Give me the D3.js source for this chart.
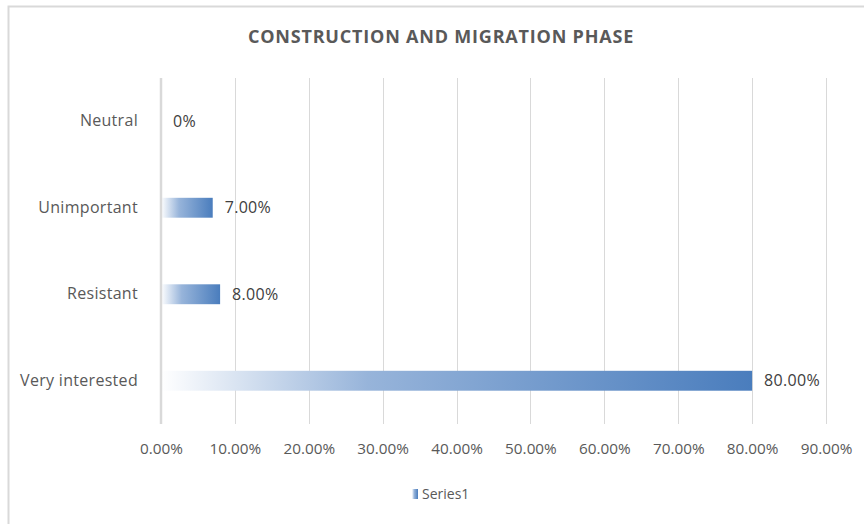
<!DOCTYPE html>
<html><head><meta charset="utf-8">
<script src="https://cdn.jsdelivr.net/npm/d3@7"></script>
<style>body{margin:0;background:#fff}svg{display:block}text{font-family:"Open Sans","Liberation Sans",sans-serif}</style>
</head><body><svg id="c" width="864" height="524"></svg>
<script>
const categories = ["Neutral","Unimportant","Resistant","Very interested"];
const values = [0, 0.07, 0.08, 0.80];
const valueLabels = ["0%","7.00%","8.00%","80.00%"];
const tickValues = [0,0.1,0.2,0.3,0.4,0.5,0.6,0.7,0.8,0.9];
const seriesName = "Series1";
const title = "CONSTRUCTION AND MIGRATION PHASE";

const svg = d3.select("#c");
const W=864,H=524;
svg.append("rect").attr("x",0).attr("y",0).attr("width",W).attr("height",H).attr("fill","#fff");
// chart frame
svg.append("path").attr("d","M8.5,524 V6.5 H864").attr("fill","none").attr("stroke","#d9d9d9").attr("stroke-width",2);

const x = d3.scaleLinear().domain([0,0.9]).range([161,826]);
const y = d3.scaleBand().domain(categories).range([78,424]).paddingInner(0.77).paddingOuter(0.385);

const defs = svg.append("defs");
const g = defs.append("linearGradient").attr("id","bg").attr("x1","0").attr("x2","1").attr("y1","0").attr("y2","0");
g.append("stop").attr("offset","0").attr("stop-color","#ffffff");
g.append("stop").attr("offset","0.35").attr("stop-color","#97b4da");
g.append("stop").attr("offset","1").attr("stop-color","#4a7dbd");

// gridlines
svg.append("g").selectAll("line").data(tickValues.slice(1)).join("line")
  .attr("x1",d=>Math.round(x(d))+0.5).attr("x2",d=>Math.round(x(d))+0.5)
  .attr("y1",78).attr("y2",424).attr("stroke","#d9d9d9").attr("stroke-width",1);

// bars
svg.append("g").selectAll("rect").data(values).join("rect")
  .attr("x",x(0)).attr("y",(d,i)=>y(categories[i]))
  .attr("width",d=>x(d)-x(0)).attr("height",y.bandwidth())
  .attr("fill","url(#bg)");

// axis line
svg.append("line").attr("x1",x(0)).attr("x2",x(0)).attr("y1",78).attr("y2",424)
  .attr("stroke","#d9d9d9").attr("stroke-width",2.5);

// x axis labels
const xa = svg.append("g").attr("transform","translate(0,424)")
  .call(d3.axisBottom(x).tickValues(tickValues).tickFormat(d=>(d*100).toFixed(2)+"%").tickSize(0).tickPadding(19));
xa.select(".domain").remove();
xa.selectAll("text").attr("fill","#595959").style("font-size","15.3px").style("font-family","'Open Sans',sans-serif");

// y axis labels
const ya = svg.append("g").attr("transform","translate(161,0)")
  .call(d3.axisLeft(y).tickSize(0).tickPadding(23));
ya.select(".domain").remove();
ya.selectAll("text").attr("fill","#595959").style("font-size","16px").style("letter-spacing","0.3px").style("font-family","'Open Sans',sans-serif");

// data labels
svg.append("g").selectAll("text").data(values).join("text")
  .attr("x",d=>x(d)+12).attr("y",(d,i)=>y(categories[i])+y.bandwidth()/2)
  .attr("dy","0.35em").attr("fill","#404040").style("font-size","16px").style("letter-spacing","0.3px")
  .text((d,i)=>valueLabels[i]);

// title
svg.append("text").attr("x",441).attr("y",43).attr("text-anchor","middle")
  .attr("fill","#595959").style("font-size","18px").style("font-weight","bold").style("letter-spacing","0.8px")
  .style("font-family","'Open Sans',sans-serif").text(title);

// legend
svg.append("rect").attr("x",412).attr("y",489).attr("width",6).attr("height",10).attr("fill","url(#bg)");
svg.append("text").attr("x",422).attr("y",494).attr("dy","0.35em").attr("fill","#595959")
  .style("font-size","14px").text(seriesName);
</script></body></html>
